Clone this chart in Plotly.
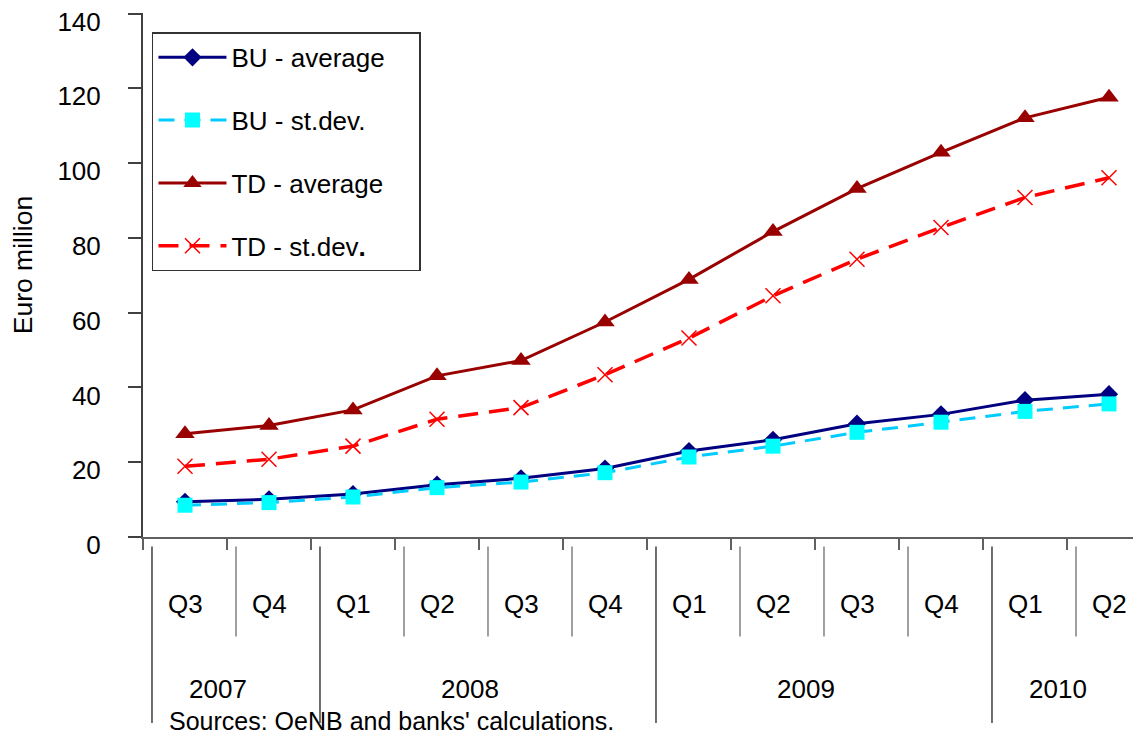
import plotly.graph_objects as go

years = ["2007", "2007", "2008", "2008", "2008", "2008", "2009", "2009", "2009", "2009", "2010", "2010"]
quarters = ["Q3", "Q4", "Q1", "Q2", "Q3", "Q4", "Q1", "Q2", "Q3", "Q4", "Q1", "Q2"]
categories = [f"{y} {q}" for y, q in zip(years, quarters)]

bu_average = [9.4, 10.1, 11.5, 14.0, 15.7, 18.3, 23.0, 26.0, 30.3, 32.8, 36.6, 38.2]
bu_stdev = [8.5, 9.2, 10.7, 13.2, 14.7, 17.2, 21.4, 24.3, 28.0, 30.7, 33.6, 35.6]
td_average = [27.6, 29.8, 34.0, 43.1, 47.2, 57.5, 68.9, 81.7, 93.2, 102.9, 112.1, 117.6]
td_stdev = [18.9, 20.8, 24.3, 31.5, 34.6, 43.4, 53.2, 64.5, 74.3, 82.8, 90.8, 96.1]

series_names = ["BU - average", "BU - st.dev.", "TD - average", "TD - st.dev<b>.</b>"]
year_labels = ["2007", "2008", "2009", "2010"]
y_ticks = [0, 20, 40, 60, 80, 100, 120, 140]
source_note = "Sources: OeNB and banks' calculations."

FONT = "Liberation Sans, Arial, sans-serif"
FS = 26
PAD = "\u00a0" * 4  # widen legend box to match reference

fig = go.Figure()
fig.add_trace(go.Scatter(
    x=categories, y=bu_average, name=series_names[0] + PAD, mode="lines+markers",
    line=dict(color="#000080", width=3),
    marker=dict(symbol="diamond", size=14, color="#000080"),
    legendgroup="a"))
fig.add_trace(go.Scatter(
    x=categories, y=bu_stdev, name=series_names[1], mode="lines+markers",
    line=dict(color="#00CCFF", width=3, dash="16px,10px"),
    marker=dict(symbol="square", size=15, color="#00FFFF"),
    legendgroup="b"))
fig.add_trace(go.Scatter(
    x=categories, y=td_average, name=series_names[2], mode="lines+markers",
    line=dict(color="#990000", width=3),
    marker=dict(symbol="triangle-up", size=17, color="#990000"),
    legendgroup="c"))
fig.add_trace(go.Scatter(
    x=categories, y=td_stdev, name=series_names[3], mode="lines+markers",
    line=dict(color="#FF0000", width=3.5, dash="20px,11px"),
    marker=dict(symbol="x-thin-open", size=15, color="#FF0000",
                line=dict(color="#FF0000", width=1.5)),
    legendgroup="d"))

n = len(categories)
shapes = []
annotations = []
year_starts = [i for i in range(n) if i == 0 or years[i] != years[i - 1]]
for i in range(n):
    is_year = i in year_starts
    shapes.append(dict(
        type="line", xref="x", yref="paper",
        x0=i - 0.5 + 0.107, x1=i - 0.5 + 0.107,
        y0=-0.018, y1=-0.355 if is_year else -0.19,
        line=dict(color="#808080" if not is_year else "#404040", width=1.5)))
for i, q in enumerate(quarters):
    annotations.append(dict(
        x=i, y=-0.127, xref="x", yref="paper", text=q, showarrow=False,
        font=dict(family=FONT, size=FS, color="black"),
        xanchor="center", yanchor="middle"))
for yl in year_labels:
    idx = [i for i in range(n) if years[i] == yl]
    center = (idx[0] + idx[-1]) / 2 - 0.105
    annotations.append(dict(
        x=center, y=-0.291, xref="x", yref="paper", text=yl, showarrow=False,
        font=dict(family=FONT, size=FS, color="black"),
        xanchor="center", yanchor="middle"))
annotations.append(dict(
    x=0.024, y=-0.352, xref="paper", yref="paper", text=source_note,
    showarrow=False, font=dict(family=FONT, size=FS - 1, color="black"),
    xanchor="left", yanchor="middle"))
annotations.append(dict(
    x=-0.120, y=0.519, xref="paper", yref="paper", text="Euro million",
    showarrow=False, textangle=-90, font=dict(family=FONT, size=26.5, color="black"),
    xanchor="center", yanchor="middle"))

fig.update_layout(
    width=1133, height=730,
    margin=dict(l=135, r=0, t=5, b=201),
    paper_bgcolor="white", plot_bgcolor="white",
    font=dict(family=FONT, size=FS, color="black"),
    showlegend=True,
    legend=dict(
        x=0.009, y=0.963, xanchor="left", yanchor="top",
        bgcolor="white", bordercolor="#333333", borderwidth=1.5,
        font=dict(family=FONT, size=FS, color="black"),
        traceorder="grouped", tracegroupgap=26, itemwidth=68),
    shapes=shapes, annotations=annotations,
    xaxis=dict(
        type="category", range=[-0.5, -0.5 + 998 / 84], automargin=False,
        showticklabels=False, tickson="boundaries", ticks="outside",
        ticklen=11, tickwidth=1.5, tickcolor="#606060",
        showline=True, linecolor="#606060", linewidth=2,
        showgrid=False, zeroline=False),
    yaxis=dict(
        range=[0, 140.15], tickvals=y_ticks, ticks="outside", ticklen=13,
        tickwidth=1.5, tickcolor="#404040", automargin=False,
        showline=True, linecolor="#404040", linewidth=2,
        showgrid=False, zeroline=False, ticklabelstandoff=22,
        ticklabeloverflow="allow", ticklabelshift=8,
        tickfont=dict(family=FONT, size=FS, color="black")),
)

fig.write_html("out.html")
